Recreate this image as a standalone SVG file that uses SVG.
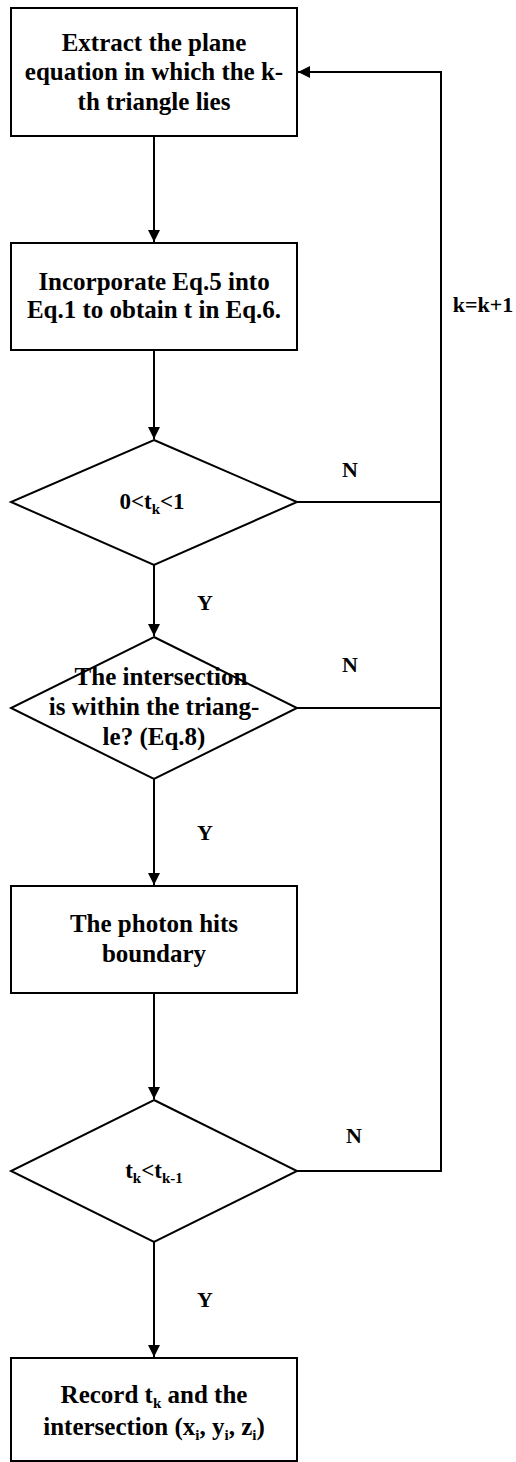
<svg xmlns="http://www.w3.org/2000/svg" width="516" height="1462" viewBox="0 0 516 1462">
<style>
.s{fill:#fff;stroke:#000;stroke-width:2}
.t{font-family:"Liberation Serif","Times New Roman",serif;font-weight:bold;font-size:25px;fill:#000;text-anchor:middle}
.l{font-family:"Liberation Serif","Times New Roman",serif;font-weight:bold;font-size:22px;fill:#000;text-anchor:middle}
.c{fill:none;stroke:#000;stroke-width:2}
.sub{font-size:15px}
</style>
<defs>
<marker id="ah" markerWidth="12" markerHeight="12" viewBox="0 0 12 12" refX="12" refY="6" orient="auto" markerUnits="userSpaceOnUse">
<path d="M0,0 L12,6 L0,12 Z" fill="#000"/>
</marker>
</defs>
<rect width="516" height="1462" fill="#fff"/>
<g id="connectors">
<line class="c" x1="154" y1="137" x2="154" y2="242" marker-end="url(#ah)"/>
<line class="c" x1="154" y1="350" x2="154" y2="439" marker-end="url(#ah)"/>
<line class="c" x1="154" y1="565" x2="154" y2="636" marker-end="url(#ah)"/>
<line class="c" x1="154" y1="779" x2="154" y2="885" marker-end="url(#ah)"/>
<line class="c" x1="154" y1="993" x2="154" y2="1099" marker-end="url(#ah)"/>
<line class="c" x1="154" y1="1242" x2="154" y2="1357" marker-end="url(#ah)"/>
<line class="c" x1="297" y1="502" x2="441" y2="502"/>
<line class="c" x1="297" y1="708" x2="441" y2="708"/>
<polyline class="c" points="297,1171 441,1171 441,72 298,72" marker-end="url(#ah)"/>
<text class="l" x="350" y="477">N</text>
<text class="l" x="350" y="672">N</text>
<text class="l" x="354" y="1143">N</text>
<text class="l" x="205" y="610">Y</text>
<text class="l" x="205" y="840">Y</text>
<text class="l" x="205" y="1307">Y</text>
<text class="l" x="483" y="312">k=k+1</text>
</g>
<g id="n1">
<rect class="s" x="11" y="8" width="286" height="128"/>
<text class="t" x="154" y="51">Extract the plane</text>
<text class="t" x="154" y="80">equation in which the k-</text>
<text class="t" x="154" y="110">th triangle lies</text>
</g>
<g id="n2">
<rect class="s" x="11" y="243" width="286" height="107"/>
<text class="t" x="154" y="290">Incorporate Eq.5 into</text>
<text class="t" x="154" y="318">Eq.1 to obtain t in Eq.6.</text>
</g>
<g id="n3">
<polygon class="s" points="154,440 297,502 154,565 11,502"/>
<text class="l" x="152" y="509" style="font-size:23px">0&lt;t<tspan class="sub" dy="5">k</tspan><tspan dy="-5">&lt;1</tspan></text>
</g>
<g id="n4">
<polygon class="s" points="154,637 297,708 154,779 11,708"/>
<text class="t" x="161" y="685">The intersection</text>
<text class="t" x="154" y="715">is within the triang-</text>
<text class="t" x="154" y="745">le?  (Eq.8)</text>
</g>
<g id="n5">
<rect class="s" x="11" y="886" width="286" height="107"/>
<text class="t" x="154" y="932">The photon hits</text>
<text class="t" x="154" y="962">boundary</text>
</g>
<g id="n6">
<polygon class="s" points="154,1100 297,1171 154,1242 11,1171"/>
<text class="l" x="154" y="1178" style="font-size:23px">t<tspan class="sub" dy="5">k</tspan><tspan dy="-5">&lt;t</tspan><tspan class="sub" dy="5">k-1</tspan></text>
</g>
<g id="n7">
<rect class="s" x="11" y="1358" width="286" height="103"/>
<text class="t" x="154" y="1403">Record t<tspan class="sub" dy="5">k</tspan><tspan dy="-5"> and the</tspan></text>
<text class="t" x="154" y="1435">intersection (x<tspan class="sub" dy="5">i</tspan><tspan dy="-5">, y</tspan><tspan class="sub" dy="5">i</tspan><tspan dy="-5">, z</tspan><tspan class="sub" dy="5">i</tspan><tspan dy="-5">)</tspan></text>
</g>
</svg>
